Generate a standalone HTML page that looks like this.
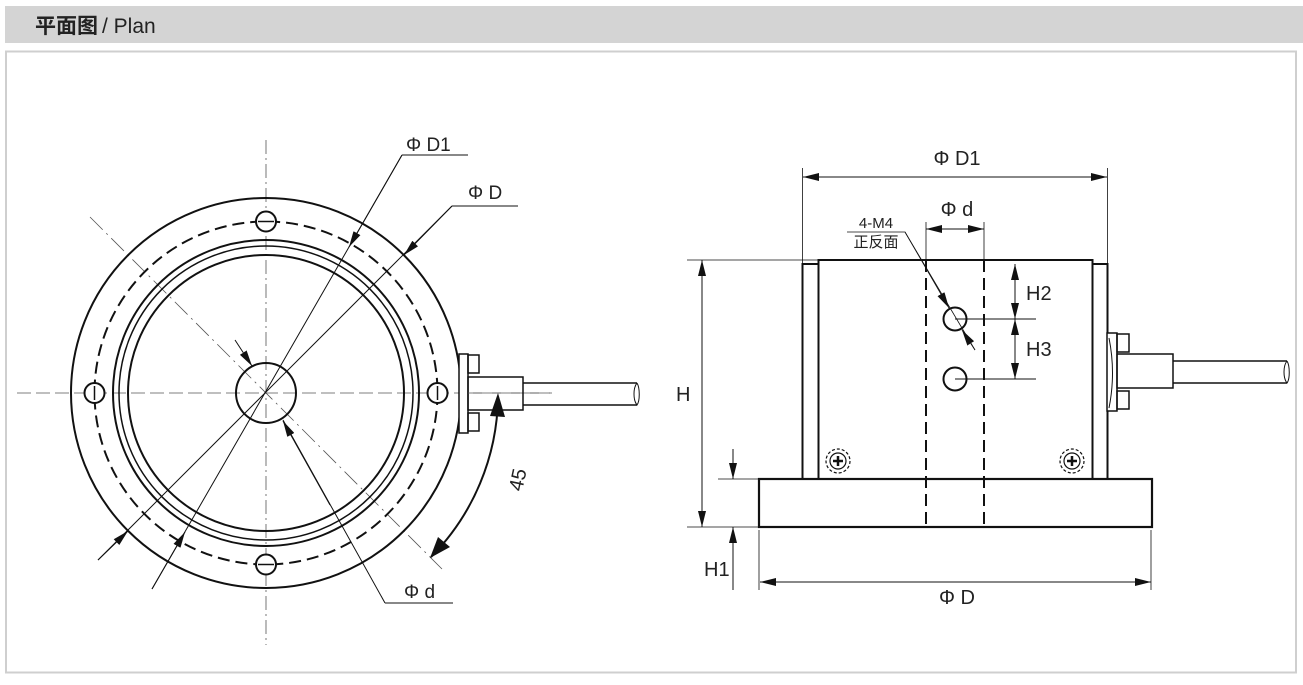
<!DOCTYPE html>
<html><head><meta charset="utf-8"><style>
body{margin:0;background:#fff;width:1303px;height:680px;overflow:hidden}
svg text{font-family:"Liberation Sans","Noto Sans CJK SC",sans-serif;fill:#222}
</style></head><body>
<svg width="1303" height="680" viewBox="0 0 1303 680" xmlns="http://www.w3.org/2000/svg">
<defs>
<marker id="a" viewBox="0 0 16 8" refX="16" refY="4" markerWidth="16" markerHeight="8" markerUnits="userSpaceOnUse" orient="auto-start-reverse"><path d="M0,0L16,4L0,8z" fill="#111"/></marker>
</defs>
<rect x="5" y="6" width="1298" height="37" fill="#d4d4d4"/>
<text x="35" y="33" font-size="21" font-weight="bold" fill="#222">平面图</text>
<text x="102" y="33" font-size="21" fill="#333">/ Plan</text>
<rect x="6" y="51.5" width="1290" height="621" fill="none" stroke="#cfcfcf" stroke-width="2"/>

<g stroke="#111" fill="none">
<line x1="266" y1="140" x2="266" y2="645" stroke-width="0.8" stroke="#555" stroke-dasharray="14,4,2,4"/>
<line x1="17" y1="393" x2="550" y2="393" stroke-width="0.8" stroke="#555" stroke-dasharray="14,5"/>
<line x1="90" y1="217" x2="442" y2="569" stroke-width="0.8" stroke="#555" stroke-dasharray="18,5,2,5"/>
<circle cx="266" cy="393" r="195" stroke-width="2"/>
<circle cx="266" cy="393" r="171.5" stroke-width="2" stroke-dasharray="12,6"/>
<circle cx="266" cy="393" r="153" stroke-width="2"/>
<circle cx="266" cy="393" r="147" stroke-width="1.5"/>
<circle cx="266" cy="393" r="138" stroke-width="2"/>
<circle cx="266" cy="393" r="30" stroke-width="2"/>
<g stroke-width="2" fill="#fff">
<circle cx="266" cy="221.5" r="10"/><circle cx="266" cy="564.5" r="10"/>
<circle cx="94.5" cy="393" r="10"/><circle cx="437.5" cy="393" r="10"/>
</g>
<line x1="258" y1="221.5" x2="274" y2="221.5" stroke-width="1.5"/>
<line x1="258" y1="564.5" x2="274" y2="564.5" stroke-width="1.5"/>
<line x1="94.5" y1="386" x2="94.5" y2="400" stroke-width="1.5"/>
<line x1="437.5" y1="386" x2="437.5" y2="400" stroke-width="1.5"/>
<rect x="459" y="354" width="9" height="79" stroke-width="1.5" fill="#fff"/>
<rect x="468" y="355" width="11" height="18" stroke-width="1.5"/>
<rect x="468" y="413" width="11" height="18" stroke-width="1.5"/>
<rect x="468" y="377" width="55" height="33" stroke-width="1.5"/>
<path d="M523 383H637M523 405H637" stroke-width="1.5"/>
<path d="M637 383c-4 5-4 17 0 22c3-4 3-17 0-22" stroke-width="1"/>
<line x1="468" y1="393" x2="552" y2="393" stroke-width="0.8" stroke="#555" stroke-dasharray="14,5"/>
<path d="M402 155H468M402 155L152 589" stroke-width="1"/>
<line x1="402" y1="155" x2="349" y2="247" stroke-width="1" marker-end="url(#a)"/>
<line x1="152" y1="589" x2="185" y2="532" stroke-width="1" marker-end="url(#a)"/>
<path d="M452 206H518M452 206L98 560" stroke-width="1"/>
<line x1="452" y1="206" x2="404" y2="255" stroke-width="1" marker-end="url(#a)"/>
<line x1="98" y1="560" x2="128" y2="531" stroke-width="1" marker-end="url(#a)"/>
<path d="M385 603H453M385 603L283 420" stroke-width="1"/>
<line x1="330" y1="505" x2="283" y2="421" stroke-width="1" marker-end="url(#a)"/>
<line x1="235" y1="340" x2="252" y2="366" stroke-width="1" marker-end="url(#a)"/>
<path d="M498 397A232 232 0 0 1 431 557" stroke-width="2"/>
<path d="M498 393l-8 23l15 1z" fill="#111" stroke="none"/>
<path d="M430 558l8-21l12 10z" fill="#111" stroke="none"/>
</g>
<text x="406" y="151" font-size="19">Φ D1</text>
<text x="468" y="199" font-size="19">Φ D</text>
<text x="404" y="598" font-size="19">Φ d</text>
<text x="0" y="0" font-size="20" transform="translate(522 492) rotate(-78)">45</text>

<g stroke="#111" fill="none">
<rect x="802.5" y="264" width="305" height="215" stroke-width="2"/>
<rect x="818.5" y="260" width="274" height="219" stroke-width="2" fill="#fff"/>
<rect x="759" y="479" width="393" height="48" stroke-width="2.2" fill="#fff"/>
<path d="M926 260V527M984 260V527" stroke-width="2" stroke-dasharray="12,6"/>
<circle cx="955" cy="319" r="11.5" stroke-width="2"/>
<circle cx="955" cy="379" r="11.5" stroke-width="2"/>
<path d="M955 319H1036M955 379H1036" stroke-width="1"/>
<line x1="1015" y1="264" x2="1015" y2="319" stroke-width="1" marker-start="url(#a)" marker-end="url(#a)"/>
<line x1="1015" y1="319" x2="1015" y2="379" stroke-width="1" marker-start="url(#a)" marker-end="url(#a)"/>
<g stroke-width="1.2">
<circle cx="838" cy="461" r="12" stroke-dasharray="3,2"/><circle cx="838" cy="461" r="8"/>
<path d="M833 461h10M838 456v10" stroke-width="2.5"/>
<circle cx="1072" cy="461" r="12" stroke-dasharray="3,2"/><circle cx="1072" cy="461" r="8"/>
<path d="M1067 461h10M1072 456v10" stroke-width="2.5"/>
</g>
<rect x="1107" y="333" width="10" height="78" stroke-width="1.5" fill="#fff"/>
<path d="M1109 338q7 35 0 70" stroke-width="1"/>
<rect x="1117" y="334" width="12" height="18" stroke-width="1.5"/>
<rect x="1117" y="391" width="12" height="18" stroke-width="1.5"/>
<rect x="1117" y="354" width="56" height="34" stroke-width="1.5"/>
<path d="M1173 361H1287M1173 383H1287" stroke-width="1.5"/>
<path d="M1287 361c-4 5-4 17 0 22c3-4 3-17 0-22" stroke-width="1"/>
<path d="M802.5 168V264M1107.5 168V264" stroke-width="0.8"/>
<line x1="803" y1="177" x2="1107" y2="177" stroke-width="1" marker-start="url(#a)" marker-end="url(#a)"/>
<path d="M926 222V260M984 222V260" stroke-width="0.8"/>
<line x1="926" y1="229" x2="984" y2="229" stroke-width="1" marker-start="url(#a)" marker-end="url(#a)"/>
<path d="M847 232H905L975 350" stroke-width="0.8"/>
<line x1="905" y1="232" x2="949" y2="308" stroke-width="0.8" marker-end="url(#a)"/>
<line x1="975" y1="350" x2="962" y2="330" stroke-width="0.8" marker-end="url(#a)"/>
<path d="M687 260H818M687 527H759M718 479H759" stroke-width="0.8"/>
<line x1="702" y1="260" x2="702" y2="527" stroke-width="1" marker-start="url(#a)" marker-end="url(#a)"/>
<line x1="733" y1="449" x2="733" y2="479" stroke-width="1" marker-end="url(#a)"/>
<line x1="733" y1="590" x2="733" y2="527" stroke-width="1" marker-end="url(#a)"/>
<path d="M759 530V590M1151 530V590" stroke-width="0.8"/>
<line x1="760" y1="582" x2="1151" y2="582" stroke-width="1" marker-start="url(#a)" marker-end="url(#a)"/>
</g>
<text x="957" y="165" font-size="20" text-anchor="middle">Φ D1</text>
<text x="957" y="216" font-size="20" text-anchor="middle">Φ d</text>
<text x="876" y="228" font-size="15" text-anchor="middle">4-M4</text>
<text x="876" y="247" font-size="15" text-anchor="middle">正反面</text>
<text x="1026" y="300" font-size="20">H2</text>
<text x="1026" y="356" font-size="20">H3</text>
<text x="676" y="401" font-size="20">H</text>
<text x="704" y="576" font-size="20">H1</text>
<text x="957" y="604" font-size="20" text-anchor="middle">Φ D</text>
</svg>
</body></html>
